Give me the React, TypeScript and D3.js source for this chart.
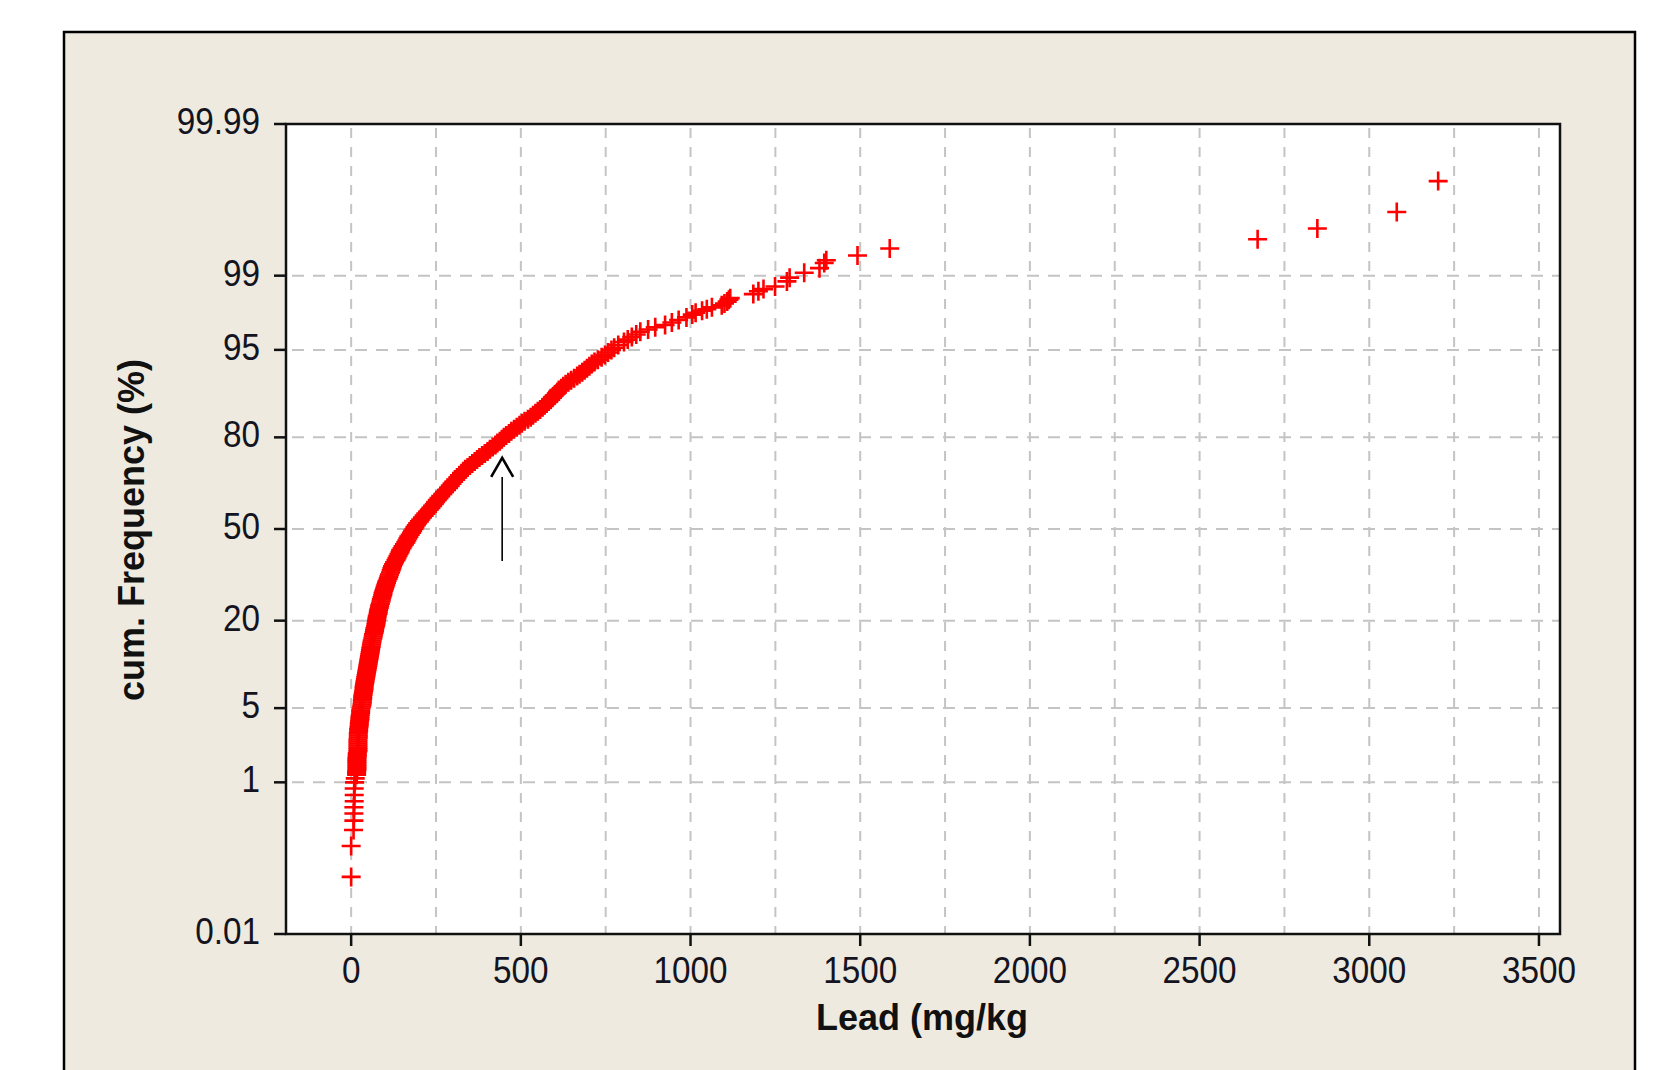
import React from 'react';
import * as d3 from 'd3';

// ---------- data ----------
const xTicks = [0, 500, 1000, 1500, 2000, 2500, 3000, 3500];
const xGridValues = [0, 250, 500, 750, 1000, 1250, 1500, 1750, 2000, 2250, 2500, 2750, 3000, 3250, 3500];
const yTicks = [0.01, 1, 5, 20, 50, 80, 95, 99, 99.99];
const yTickLabels = ['0.01', '1', '5', '20', '50', '80', '95', '99', '99.99'];
const yGridValues = [1, 5, 20, 50, 80, 95, 99];

// cumulative frequency (%) of each plotted sample
const cumFreq = [
  0.07, 0.18, 0.285, 0.37, 0.45, 0.53, 0.62, 0.73, 0.86, 1.0, 1.1,
  1.20, 1.25, 1.30, 1.35, 1.40, 1.46, 1.52, 1.58, 1.64, 1.70, 1.77, 1.84, 1.91, 1.98,
  2.06, 2.15, 2.24, 2.34, 2.44, 2.55, 2.66, 2.78, 2.90, 3.03, 3.16, 3.30, 3.44, 3.59, 3.74, 3.90, 4.06, 4.23, 4.40, 4.58, 4.77, 4.96,
  5.15, 5.35, 5.55, 5.76, 5.97, 6.19, 6.41, 6.64, 6.87, 7.11, 7.35, 7.60, 7.86, 8.12, 8.39, 8.66, 8.94, 9.22, 9.51, 9.81,
  10.12, 10.44, 10.77, 11.10, 11.44, 11.79, 12.14, 12.50, 12.87, 13.25, 13.64, 14.04, 14.45, 14.87, 15.30, 15.74, 16.19, 16.65, 17.12, 17.60, 18.09, 18.59, 19.10, 19.62,
  20.15, 20.68, 21.22, 21.77, 22.33, 22.90, 23.48, 24.07, 24.67, 25.28, 25.90, 26.53, 27.16, 27.80, 28.44, 29.09, 29.75, 30.41, 31.08, 31.75, 32.43, 33.11, 33.80, 34.49, 35.19, 35.89, 36.60, 37.31, 38.02, 38.74, 39.46,
  40.2, 40.9, 41.6, 42.3, 43.0, 43.7, 44.4, 45.1, 45.8, 46.5, 47.2, 47.9, 48.6, 49.3, 50.0, 50.7, 51.4, 52.1, 52.8, 53.5, 54.2, 54.9, 55.6, 56.3, 57.0, 57.7, 58.4, 59.1, 59.8,
  60.5, 61.2, 61.9, 62.6, 63.3, 64.0, 64.7, 65.4, 66.1, 66.8, 67.5, 68.2, 68.9, 69.6, 70.2, 70.8, 71.4, 72.0, 72.6, 73.2, 73.8, 74.4, 75.0, 75.6, 76.2, 76.8, 77.4, 78.0, 78.5, 79.0, 79.5,
  80.0, 80.5, 81.0, 81.5, 82.0, 82.5, 82.95, 83.4, 83.85, 84.3, 84.75, 85.2, 85.6, 86.0, 86.4, 86.8, 87.2, 87.55, 87.9, 88.25, 88.6, 88.95, 89.3, 89.6, 89.9,
  90.2, 90.5, 90.8, 91.1, 91.4, 91.7, 92.0, 92.25, 92.5, 92.75, 93.0, 93.25, 93.5, 93.75, 94.0, 94.25, 94.5, 94.75, 95.0,
  95.2, 95.45, 95.7, 95.9, 96.1, 96.3, 96.5, 96.65, 96.8, 96.95, 97.1, 97.25, 97.4, 97.55, 97.65,
  97.75, 97.82, 97.91, 98.00, 98.08, 98.16, 98.24, 98.30, 98.45, 98.55, 98.62, 98.70, 98.85, 98.95, 99.07, 99.17, 99.27, 99.32, 99.40, 99.50, 99.61, 99.71, 99.82, 99.93,
];

// lead concentration (mg/kg) of each plotted sample
const leadMgKg = [
  0, 0, 7, 8, 8, 8, 9, 9, 9, 10, 12,
  16, 16, 16, 17, 17, 17, 17, 17, 17, 17, 17, 18, 18, 18,
  20, 20, 20, 20, 20, 20, 20, 21, 21, 21, 22, 22, 23, 24, 24, 25, 26, 26, 27, 28, 28, 29,
  31, 32, 33, 33, 34, 34, 35, 36, 37, 38, 38, 39, 40, 41, 42, 43, 44, 45, 46, 47,
  48, 49, 50, 51, 52, 53, 54, 55, 56, 57, 58, 59, 60, 61, 62, 64, 65, 66, 68, 69, 70, 72, 73, 74,
  75, 76, 77, 79, 80, 81, 83, 84, 86, 88, 89, 91, 93, 94, 96, 98, 100, 102, 104, 106, 109, 111, 113, 116, 118, 120, 122, 125, 128, 132, 135,
  138, 141, 144, 146, 150, 153, 157, 161, 164, 167, 170, 174, 178, 181, 185, 188, 192, 196, 201, 205, 210, 215, 220, 225, 230, 235, 240, 245, 249,
  254, 259, 264, 270, 275, 281, 287, 292, 297, 302, 308, 314, 319, 325, 330, 336, 343, 350, 357, 364, 371, 378, 386, 394, 402, 409, 417, 425, 431, 438, 444,
  450, 457, 465, 472, 480, 488, 496, 503, 511, 521, 529, 536, 543, 550, 557, 564, 570, 576, 582, 588, 593, 598, 604, 608, 612,
  619, 625, 632, 640, 648, 657, 666, 673, 681, 688, 695, 702, 709, 717, 727, 738, 748, 757, 767,
  775, 787, 804, 815, 827, 840, 852, 875, 896, 925, 945, 965, 988, 1005, 1015,
  1034, 1048, 1063, 1092, 1100, 1108, 1113, 1117, 1185, 1200, 1215, 1249, 1284, 1292, 1335, 1380, 1394, 1400, 1492, 1587, 2671, 2847, 3081, 3203,
];

// annotation arrow (in data units)
const arrowLead = 445;
const arrowFromPct = 38.4;
const arrowToPct = 74.3;

const xTitle = 'Lead (mg/kg';
const yTitle = 'cum. Frequency (%)';

// ---------- helpers ----------
function probit(p: number): number {
  const a = [-3.969683028665376e1, 2.209460984245205e2, -2.759285104469687e2, 1.38357751867269e2, -3.066479806614716e1, 2.506628277459239];
  const b = [-5.447609879822406e1, 1.615858368580409e2, -1.556989798598866e2, 6.680131188771972e1, -1.328068155092442e1];
  const c = [-7.784894002430293e-3, -3.223964580411365e-1, -2.400758277161838, -2.549671324505306, 4.374664141464968, 2.938163982698783];
  const d = [7.784695709041462e-3, 3.224671290700398e-1, 2.445134137142996, 3.754408661907416];
  const plow = 0.02425;
  const phigh = 1 - plow;
  if (p < plow) {
    const q = Math.sqrt(-2 * Math.log(p));
    return (((((c[0] * q + c[1]) * q + c[2]) * q + c[3]) * q + c[4]) * q + c[5]) / ((((d[0] * q + d[1]) * q + d[2]) * q + d[3]) * q + 1);
  }
  if (p <= phigh) {
    const q = p - 0.5;
    const r = q * q;
    return ((((((a[0] * r + a[1]) * r + a[2]) * r + a[3]) * r + a[4]) * r + a[5]) * q) / (((((b[0] * r + b[1]) * r + b[2]) * r + b[3]) * r + b[4]) * r + 1);
  }
  const q = Math.sqrt(-2 * Math.log(1 - p));
  return -(((((c[0] * q + c[1]) * q + c[2]) * q + c[3]) * q + c[4]) * q + c[5]) / ((((d[0] * q + d[1]) * q + d[2]) * q + d[3]) * q + 1);
}

const W = 1670;
const H = 1070;
const plot = { left: 286, right: 1560, top: 124, bottom: 934 };

const x = d3.scaleLinear().domain([-192, 3562]).range([plot.left, plot.right]);
const zScale = d3.scaleLinear().domain([probit(0.0001), probit(0.9999)]).range([plot.bottom, plot.top]);
const y = (pct: number) => zScale(probit(pct / 100));

const FONT = '"Liberation Sans", Arial, "DejaVu Sans", sans-serif';
const GRID = '#c4c4c4';
const M = 9.5; // marker half length

export default function App() {
  const points = cumFreq.map((p, i) => ({ p, v: leadMgKg[i] }));
  const ax = x(arrowLead);
  const ayTop = y(arrowToPct);
  const ayBottom = y(arrowFromPct);

  return (
    <svg
      width={W}
      height={H}
      viewBox={`0 0 ${W} ${H}`}
      style={{ position: 'absolute', left: 0, top: 0, display: 'block', background: '#ffffff' }}
      fontFamily={FONT}
    >
      {/* outer frame */}
      <rect x={64} y={32} width={1571} height={1100} fill="#EEEAE0" stroke="#000" strokeWidth={2.5} />

      {/* plot area */}
      <rect x={plot.left} y={plot.top} width={plot.right - plot.left} height={plot.bottom - plot.top} fill="#fff" />

      {/* vertical grid */}
      {xGridValues.map((v) => (
        <line key={'gx' + v} x1={x(v)} x2={x(v)} y1={plot.top + 4} y2={plot.bottom} stroke={GRID} strokeWidth={2} strokeDasharray="10 9" />
      ))}
      {/* horizontal grid */}
      {yGridValues.map((v) => (
        <line key={'gy' + v} x1={plot.left} x2={plot.right} y1={y(v)} y2={y(v)} stroke={GRID} strokeWidth={2} strokeDasharray="12 9" strokeDashoffset={-6} />
      ))}

      {/* data markers */}
      <g stroke="#ff0000" strokeWidth={2.6} fill="none">
        {points.map((d, i) => (
          <path key={i} transform={`translate(${x(d.v)},${y(d.p)})`} d={`M${-M},0H${M}M0,${-M}V${M}`} />
        ))}
      </g>

      {/* annotation arrow */}
      <g stroke="#000" fill="none">
        <line x1={ax} x2={ax} y1={ayBottom} y2={ayTop + 19} strokeWidth={1.6} />
        <path d={`M${ax - 11},${ayTop + 19}L${ax},${ayTop}L${ax + 11},${ayTop + 19}`} strokeWidth={2.6} />
      </g>

      {/* plot border */}
      <rect x={plot.left} y={plot.top} width={plot.right - plot.left} height={plot.bottom - plot.top} fill="none" stroke="#111" strokeWidth={2.5} />

      {/* y ticks and labels */}
      {yTicks.map((t, i) => (
        <g key={'yt' + t}>
          <line x1={plot.left - 12} x2={plot.left} y1={y(t)} y2={y(t)} stroke="#111" strokeWidth={2.5} />
          <text transform={`translate(260,${y(t) + 10}) scale(0.9,1)`} textAnchor="end" fontSize={37} fill="#141420">
            {yTickLabels[i]}
          </text>
        </g>
      ))}

      {/* x ticks and labels */}
      {xTicks.map((t) => (
        <g key={'xt' + t}>
          <line x1={x(t)} x2={x(t)} y1={plot.bottom} y2={plot.bottom + 12} stroke="#111" strokeWidth={2.5} />
          <text transform={`translate(${x(t)},983) scale(0.9,1)`} textAnchor="middle" fontSize={37} fill="#141420">
            {d3.format('d')(t)}
          </text>
        </g>
      ))}

      {/* axis titles */}
      <text x={922} y={1030} textAnchor="middle" fontSize={36} fontWeight="bold" fill="#111">
        {xTitle}
      </text>
      <text transform="translate(144,530) rotate(-90)" textAnchor="middle" fontSize={36} fontWeight="bold" fill="#111">
        {yTitle}
      </text>
    </svg>
  );
}
